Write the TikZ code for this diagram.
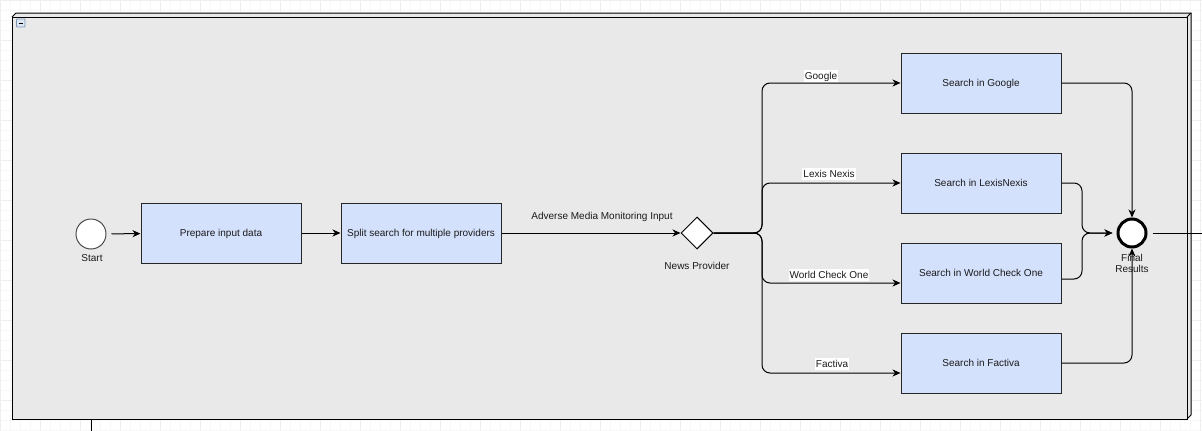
\documentclass[tikz,border=0pt]{standalone}
\usepackage{fontspec}
\setmainfont{Liberation Sans}
\usetikzlibrary{shapes.geometric,arrows.meta,calc}
\definecolor{taskfill}{HTML}{D4E1FC}
\definecolor{poolfill}{HTML}{E9E9E9}
\definecolor{gridminor}{HTML}{F7F7F7}
\definecolor{gridmajor}{HTML}{EEEEEE}
\definecolor{txt}{HTML}{1A1A1A}
\definecolor{iconblue}{HTML}{7F97B5}
\definecolor{iconfill}{HTML}{DCE6F2}
\tikzset{
  base/.style={font=\fontsize{10}{11}\selectfont, text=txt, text height=8.5pt, text depth=1.5pt},
  task/.style={base, draw=black!85, fill=taskfill, line width=1pt, minimum width=160pt, minimum height=60pt, inner sep=0pt},
  startev/.style={circle, draw=black!70, fill=white, line width=1pt, minimum size=30pt, inner sep=0pt},
  endev/.style={circle, draw=black, fill=white, line width=3pt, minimum size=28pt, inner sep=0pt},
  gateway/.style={diamond, draw=black, fill=white, line width=1pt, minimum width=32pt, minimum height=32pt, inner sep=0pt},
  lbl/.style={base, inner sep=1pt},
  elbl/.style={base, fill=white, inner sep=1pt},
  flow/.style={draw=black, line width=1pt, -{Stealth[length=8pt,width=7pt,inset=2.5pt]}},
  plain/.style={draw=black, line width=1pt},
}
\begin{document}
\begin{tikzpicture}[x=1pt,y=-1pt]
\useasboundingbox (0,0) rectangle (1202,431);
% background grid
\fill[white] (0,0) rectangle (1202,431);
\draw[gridminor, line width=0.6pt] (0,0) grid[step=10pt] (1202,431);
\draw[gridmajor, line width=0.6pt] (0,0) grid[step=40pt] (1202,431);
% pool panel (3D frame)
\fill[poolfill] (12,17) -- (16,13) -- (1191,13) -- (1191,415) -- (1187,419) -- (12,419) -- cycle;
\draw[plain] (12,17) rectangle (1187,419);
\draw[plain] (12,17) -- (16,13) -- (1191,13) -- (1191,415) -- (1187,419);
\draw[plain] (1187,17) -- (1191,13);
% collapse icon
\draw[iconblue, fill=iconfill, line width=0.8pt, rounded corners=0.8pt] (16.5,19) rectangle (25,27);
\draw[black, line width=1pt] (18.5,23) -- (23,23);

% nodes
\node[startev] (start) at (91,234) {};
\node[lbl] (startlbl) at (92,258) {Start};
\node[task] (prep) at (221,233) {Prepare input data};
\node[task] (split) at (421,233) {Split search for multiple providers};
\node[gateway] (gw) at (697,233) {};
\node[lbl] (gwlbl) at (697,266) {News Provider};
\node[task] (google) at (981,83) {Search in Google};
\node[task] (lexis) at (981,183) {Search in LexisNexis};
\node[task] (wc) at (981,273) {Search in World Check One};
\node[task] (fac) at (981,363) {Search in Factiva};
\node[endev] (fr) at (1132,233) {};
\node[lbl, align=center] (frlbl) at (1132,269) {Final\\Results};

% junction coordinates
\coordinate (bj) at (762,233);
\coordinate (mj) at (1082,233);
\coordinate (wcin) at ($(wc.west)+(0,10)$);
\coordinate (facin) at ($(fac.west)+(0,10)$);
\coordinate (wcout) at ($(wc.east)+(0,6)$);
\coordinate (out) at (1202,233);
\coordinate (bt) at (91,419);
\coordinate (btend) at (91,431);

% sequence flows
\draw[flow, shorten <=5pt] (start) -- (prep);
\draw[flow] (prep) -- (split);
\draw[flow] (split) -- (gw);
\node[lbl] (advlbl) at (602,216) {Adverse Media Monitoring Input};

\draw[flow, rounded corners=8pt] (gw.east) -- (bj) -- (bj |- google.west) -- (google.west);
\draw[flow, rounded corners=8pt] (gw.east) -- (bj) -- (bj |- lexis.west) -- (lexis.west);
\draw[flow, rounded corners=8pt] (gw.east) -- (bj) -- (bj |- wcin) -- (wcin);
\draw[flow, rounded corners=8pt] (gw.east) -- (bj) -- (bj |- facin) -- (facin);
\node[elbl] (glbl) at (821,76) {Google};
\node[elbl] (llbl) at (829,174) {Lexis Nexis};
\node[elbl] (wlbl) at (829,275) {World Check One};
\node[elbl] (flbl) at (832,364) {Factiva};

\draw[flow, rounded corners=8pt] (google.east) -- (google.east -| fr.north) -- (fr.north);
\draw[flow, rounded corners=8pt] (fac.east) -- (fac.east -| fr.south) -- (fr.south);
\draw[flow, rounded corners=8pt, shorten >=4pt] (lexis.east) -- (lexis.east -| mj) -- (mj) -- (fr.west);
\draw[flow, rounded corners=8pt, shorten >=4pt] (wcout) -- (wcout -| mj) -- (mj) -- (fr.west);

\draw[plain, shorten <=5pt] (fr.east) -- (out);
\draw[plain] (bt) -- (btend);
\end{tikzpicture}
\end{document}
